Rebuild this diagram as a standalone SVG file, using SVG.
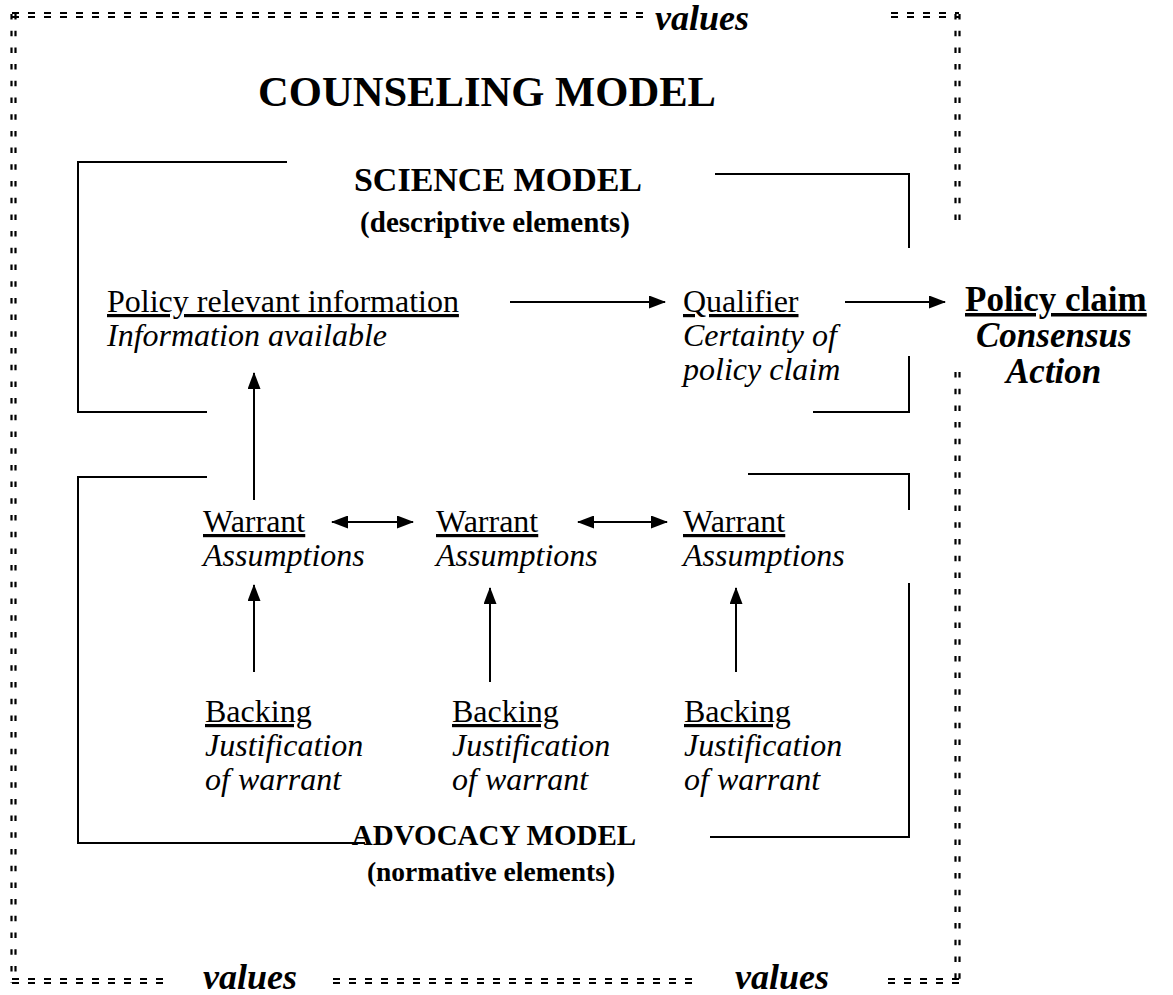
<svg xmlns="http://www.w3.org/2000/svg" width="1173" height="995" viewBox="0 0 1173 995">
  <style>
    text { font-family: "Liberation Serif", "Times New Roman", serif; fill: #000; }
    .body { font-size: 32px; }
    .claim { font-size: 35px; font-weight: bold; }
    .it { font-style: italic; }
    .b { font-weight: bold; }
    .u { text-decoration: underline; }
    .title { font-size: 42.6px; font-weight: bold; }
    .head { font-size: 34px; font-weight: bold; }
    .head2 { font-size: 29px; font-weight: bold; }
    .sub { font-size: 29px; font-weight: bold; }
    .sub2 { font-size: 27.5px; font-weight: bold; }
    .val { font-size: 36px; font-weight: bold; font-style: italic; }
    .frame { fill: none; stroke: #000; stroke-width: 2; }
    .arrow { fill: none; stroke: #000; stroke-width: 2; }
    .dh { fill: none; stroke: #000; stroke-width: 2.2; stroke-dasharray: 7 9; }
    .dv { fill: none; stroke: #000; stroke-width: 2.2; stroke-dasharray: 5.5 11.2; }
  </style>
  <defs>
    <marker id="head" viewBox="0 0 17 13" refX="16" refY="6.5" markerWidth="17" markerHeight="13" markerUnits="userSpaceOnUse" orient="auto-start-reverse">
      <path d="M0,0 L17,6.5 L0,13 Z" fill="#000"/>
    </marker>
  </defs>
  <rect width="1173" height="995" fill="#fff"/>

  <!-- values border: double dashed frame -->
  <g id="values-border">
    <path class="dh" d="M12,13 H648 M12,17 H648"/>
    <path class="dh" d="M891,13 H959 M891,17 H959"/>
    <path class="dv" d="M11.5,14 V983 M15.5,14 V983"/>
    <path class="dv" d="M955.5,14 V226 M959.5,14 V226"/>
    <path class="dv" d="M955.5,372 V983 M959.5,372 V983"/>
    <path class="dh" d="M12,979 H166 M12,983 H166"/>
    <path class="dh" d="M333,979 H698 M333,983 H698"/>
    <path class="dh" d="M888,979 H959 M888,983 H959"/>
    <text class="val" x="655" y="30">values</text>
    <text class="val" x="203" y="989">values</text>
    <text class="val" x="735" y="989">values</text>
  </g>

  <g id="counseling-model">
    <text class="title" x="487" y="106" text-anchor="middle">COUNSELING MODEL</text>
  </g>

  <!-- science model bracket -->
  <g id="science-model">
    <path class="frame" d="M287,162 H78 V412 H207"/>
    <path class="frame" d="M715,174 H909 V248"/>
    <path class="frame" d="M909,356 V412 H813"/>
    <text class="head" x="498" y="191" text-anchor="middle">SCIENCE MODEL</text>
    <text class="sub" x="495" y="232" text-anchor="middle">(descriptive elements)</text>
  </g>

  <!-- advocacy model bracket -->
  <g id="advocacy-model">
    <path class="frame" d="M207,477 H78 V843 H365"/>
    <path class="frame" d="M748,474 H909 V510"/>
    <path class="frame" d="M909,583 V837 H710"/>
    <text class="head2" x="494" y="845" text-anchor="middle">ADVOCACY MODEL</text>
    <text class="sub2" x="491" y="881" text-anchor="middle">(normative elements)</text>
  </g>

  <g id="policy-info">
    <text class="body u" x="107" y="312">Policy relevant information</text>
    <text class="body it" x="107" y="346">Information available</text>
  </g>

  <g id="qualifier">
    <text class="body u" x="683" y="312">Qualifier</text>
    <text class="body it" x="683" y="346">Certainty of</text>
    <text class="body it" x="683" y="380">policy claim</text>
  </g>

  <g id="policy-claim">
    <text class="claim u" x="965" y="311">Policy claim</text>
    <text class="claim it" x="976" y="347">Consensus</text>
    <text class="claim it" x="1006" y="383">Action</text>
  </g>

  <g id="warrant-1">
    <text class="body u" x="203" y="532">Warrant</text>
    <text class="body it" x="203" y="566">Assumptions</text>
  </g>
  <g id="warrant-2">
    <text class="body u" x="436" y="532">Warrant</text>
    <text class="body it" x="436" y="566">Assumptions</text>
  </g>
  <g id="warrant-3">
    <text class="body u" x="683" y="532">Warrant</text>
    <text class="body it" x="683" y="566">Assumptions</text>
  </g>

  <g id="backing-1">
    <text class="body u" x="205" y="722">Backing</text>
    <text class="body it" x="205" y="756">Justification</text>
    <text class="body it" x="205" y="790">of warrant</text>
  </g>
  <g id="backing-2">
    <text class="body u" x="452" y="722">Backing</text>
    <text class="body it" x="452" y="756">Justification</text>
    <text class="body it" x="452" y="790">of warrant</text>
  </g>
  <g id="backing-3">
    <text class="body u" x="684" y="722">Backing</text>
    <text class="body it" x="684" y="756">Justification</text>
    <text class="body it" x="684" y="790">of warrant</text>
  </g>

  <!-- connectors -->
  <g id="connectors">
    <path class="arrow" d="M510,302 H665" marker-end="url(#head)"/>
    <path class="arrow" d="M845,302 H945" marker-end="url(#head)"/>
    <path class="arrow" d="M254,500 V373" marker-end="url(#head)"/>
    <path class="arrow" d="M332,522 H413" marker-start="url(#head)" marker-end="url(#head)"/>
    <path class="arrow" d="M578,522 H667" marker-start="url(#head)" marker-end="url(#head)"/>
    <path class="arrow" d="M254,672 V585" marker-end="url(#head)"/>
    <path class="arrow" d="M490,682 V588" marker-end="url(#head)"/>
    <path class="arrow" d="M736,672 V588" marker-end="url(#head)"/>
  </g>
</svg>
